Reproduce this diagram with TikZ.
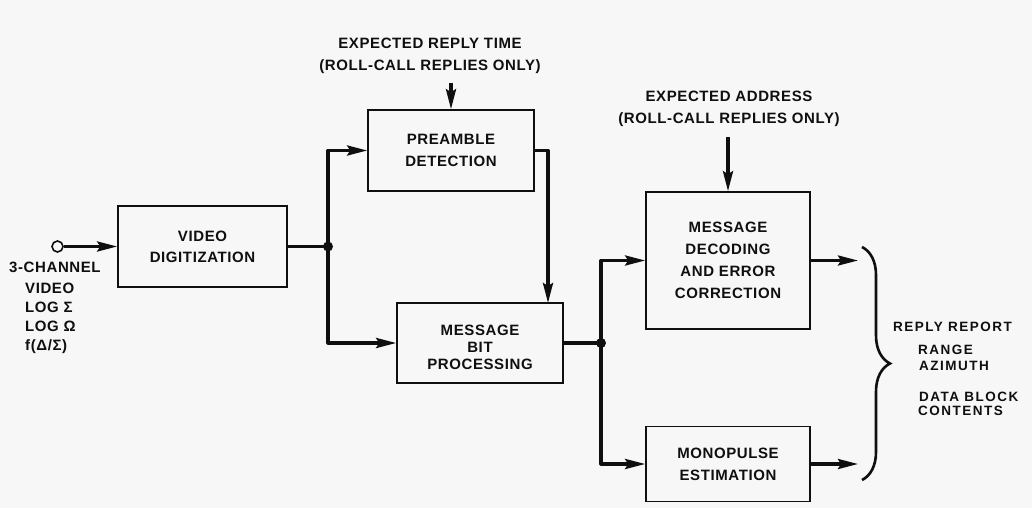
\documentclass[tikz,border=0pt]{standalone}
\usepackage{fontspec}
\setmainfont{Liberation Sans}[LetterSpace=4]
\usetikzlibrary{arrows.meta,decorations.pathreplacing,calc}
\definecolor{bgc}{rgb}{0.97,0.97,0.97}
\definecolor{ink}{rgb}{0.06,0.06,0.06}
\begin{document}
\begin{tikzpicture}[x=1pt,y=-1pt,
  box/.style={draw=ink, line width=1.6pt, inner sep=0pt, align=center, text=ink,
    font=\fontsize{15}{22}\selectfont\bfseries},
  lbl/.style={inner sep=0pt, text=ink, font=\fontsize{15}{22}\selectfont\bfseries},
  small/.style={inner sep=0pt, text=ink, font=\fontsize{13.5}{16}\selectfont\bfseries\addfontfeature{LetterSpace=11}},
  wire/.style={draw=ink, line width=3.2pt, line join=round},
  conn/.style={wire, -{Stealth[length=20pt,width=10pt,inset=3pt]}},
  dot/.style={fill=ink}]
\fill[bgc] (0,0) rectangle (1032,508);
\useasboundingbox (0,0) rectangle (1032,508);

% boxes
\node[box, minimum width=169pt, minimum height=81pt, font=\fontsize{15}{21}\selectfont\bfseries] (vid) at (202.5,246.5) {VIDEO\\DIGITIZATION};
\node[box, minimum width=166pt, minimum height=81pt] (pre) at (451,150.5) {PREAMBLE\\DETECTION};
\node[box, minimum width=166pt, minimum height=80pt, font=\fontsize{15}{17}\selectfont\bfseries] (bit) at (480,343) {\\[2pt]MESSAGE\\BIT\\PROCESSING};
\node[box, minimum width=164pt, minimum height=137pt] (dec) at (728,260.5) {MESSAGE\\DECODING\\AND ERROR\\CORRECTION};
\node[box, minimum width=164pt, minimum height=75pt] (mono) at (728,464) {MONOPULSE\\ESTIMATION};

% input
\node[circle, draw=ink, line width=1.6pt, minimum size=11pt, inner sep=0pt] (inc) at (57.5,246.5) {};
\draw[conn] (inc) -- (vid);
\node[lbl, anchor=west] (in1) at (9,267) {3-CHANNEL};
\node[lbl, anchor=west] (in2) at (25,288) {VIDEO};
\node[lbl, anchor=west] (in3) at (25,307) {LOG Σ};
\node[lbl, anchor=west] (in4) at (25,326) {LOG Ω};
\node[lbl, anchor=west] (in5) at (25,347) {f(Δ/Σ)};

% junction 1
\coordinate (j1) at (328,246.5);
\draw[wire] (vid.east) -- (j1);
\fill[dot] (j1) circle (5pt);
\draw[conn] (j1) |- (pre.west);
\draw[conn] (j1) |- (bit.west);

% preamble to bit
\coordinate (bitin) at (548,303);
\draw[conn] (pre.east) -| (bitin);

% top labels
\node[lbl, align=center] (lab1) at (430,56) {EXPECTED REPLY TIME\\(ROLL-CALL REPLIES ONLY)};
\coordinate (t1) at (451,83);
\draw[conn] (t1) -- (pre.north);
\node[lbl, align=center] (lab2) at (729,109) {EXPECTED ADDRESS\\(ROLL-CALL REPLIES ONLY)};
\coordinate (t2) at (728,137);
\draw[conn] (t2) -- (dec.north);

% junction 2
\coordinate (j2) at (601,343);
\draw[wire] (bit.east) -- (j2);
\fill[dot] (j2) circle (5pt);
\draw[conn] (j2) |- (dec.west);
\draw[conn] (j2) |- (mono.west);

% outputs
\coordinate (o1) at (858,260.5);
\coordinate (o2) at (858,464);
\draw[conn] (dec.east) -- (o1);
\draw[conn] (mono.east) -- (o2);

% brace
\coordinate (b1) at (862,247);
\coordinate (b2) at (862,480);
\draw[draw=ink, line width=2.6pt, decorate, decoration={brace, amplitude=28pt}] (b1) -- (b2);

% reply report
\node[small, anchor=west] (r1) at (893,327) {REPLY REPORT};
\node[small, anchor=west] (r2) at (918,350) {RANGE};
\node[small, anchor=west] (r3) at (919,366) {AZIMUTH};
\node[small, anchor=west] (r4) at (919,397) {DATA BLOCK};
\node[small, anchor=west] (r5) at (918,411) {CONTENTS};
\end{tikzpicture}
\end{document}
